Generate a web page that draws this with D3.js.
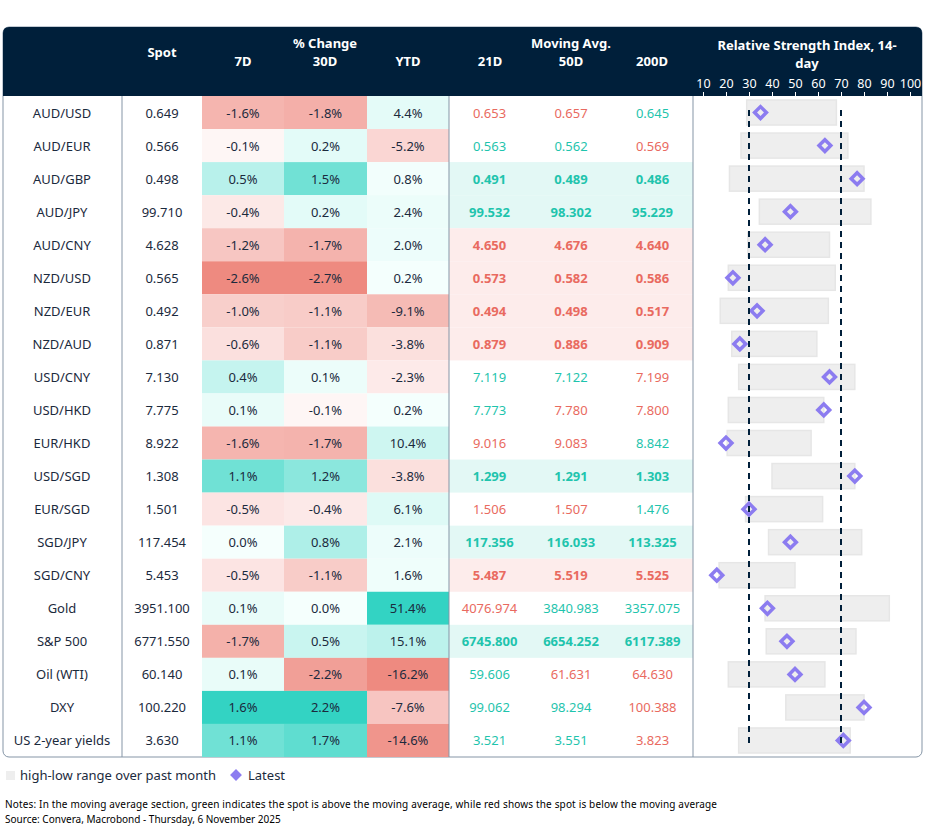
<!DOCTYPE html>
<html><head><meta charset="utf-8">
<script src="https://cdn.jsdelivr.net/npm/d3@7"></script>
<style>body{margin:0;background:#fff;font-family:"Noto Sans","Open Sans",sans-serif}</style>
</head><body><svg id="canvas" width="926" height="829"></svg>
<script>
let names = ["AUD/USD","AUD/EUR","AUD/GBP","AUD/JPY","AUD/CNY","NZD/USD","NZD/EUR","NZD/AUD","USD/CNY","USD/HKD","EUR/HKD","USD/SGD","EUR/SGD","SGD/JPY","SGD/CNY","Gold","S&P 500","Oil (WTI)","DXY","US 2-year yields"]
let spot = [0.649,0.566,0.498,99.710,4.628,0.565,0.492,0.871,7.130,7.775,8.922,1.308,1.501,117.454,5.453,3951.100,6771.550,60.140,100.220,3.630]
let chg7 = [-1.6,-0.1,0.5,-0.4,-1.2,-2.6,-1.0,-0.6,0.4,0.1,-1.6,1.1,-0.5,0.0,-0.5,0.1,-1.7,0.1,1.6,1.1]
let chg30 = [-1.8,0.2,1.5,0.2,-1.7,-2.7,-1.1,-1.1,0.1,-0.1,-1.7,1.2,-0.4,0.8,-1.1,0.0,0.5,-2.2,2.2,1.7]
let chgYtd = [4.4,-5.2,0.8,2.4,2.0,0.2,-9.1,-3.8,-2.3,0.2,10.4,-3.8,6.1,2.1,1.6,51.4,15.1,-16.2,-7.6,-14.6]
let ma21 = [0.653,0.563,0.491,99.532,4.650,0.573,0.494,0.879,7.119,7.773,9.016,1.299,1.506,117.356,5.487,4076.974,6745.800,59.606,99.062,3.521]
let ma50 = [0.657,0.562,0.489,98.302,4.676,0.582,0.498,0.886,7.122,7.780,9.083,1.291,1.507,116.033,5.519,3840.983,6654.252,61.631,98.294,3.551]
let ma200 = [0.645,0.569,0.486,95.229,4.640,0.586,0.517,0.909,7.199,7.800,8.842,1.303,1.476,113.325,5.525,3357.075,6117.389,64.630,100.388,3.823]
let rsiLow = [29,26.5,21.5,34.5,29.5,21,17.5,22.5,25.5,21,20.5,40,28.5,38.5,17,37,37.5,21,46,25.5]
let rsiHigh = [68,73,80,83,65,67.5,64.5,59.5,76,62.5,57,76,62,79,50,91,76.5,63,80,74]
let rsiLatest = [35,63,77,48,37,23,33.5,26,65,62.5,20,76,30,48,16,38,46.5,50,80,71]
let rsiTicks = [10,20,30,40,50,60,70,80,90,100]

let canvas = d3.select("#canvas")
let top0 = 27, headH = 69, bottom = 757, left = 3, right = 922
let navy = "#001f3a", teal = "#1fc4ad", red = "#e96a60", ink = "#1b2a3d"

let y = d3.scaleBand().domain(d3.range(names.length)).range([top0 + headH, bottom])
let cols = [3,122,202,284,367,449,530,612,693,922]
let rsiX = d3.scaleLinear().domain([10,100]).range([703,910])

let fmt3 = d3.format(".3f")
let heat = (arr) => {
    let mn = d3.min(arr), mx = d3.max(arr)
    return (v) => v < 0 ? d3.interpolateRgb("#fffafa", "#ee8a80")(v / mn)
        : d3.interpolateRgb("#f5fffd", "#33d3c3")(mx ? v / mx : 0)
}

// outer box + header
canvas.append("rect").attr("x", left).attr("y", top0).attr("width", right - left).attr("height", bottom - top0)
    .attr("rx", 6).attr("fill", "#fff").attr("stroke", "#8595a6")
canvas.append("path").attr("fill", navy)
    .attr("d", `M${left},${top0+headH} V${top0+6} Q${left},${top0} ${left+6},${top0} H${right-6} Q${right},${top0} ${right},${top0+6} V${top0+headH} Z`)

let hdr = (x, yy, t, size) => canvas.append("text").attr("x", x).attr("y", yy).attr("text-anchor", "middle")
    .attr("fill", "#fff").attr("font-weight", "bold").attr("font-size", size || 13).text(t)
hdr(162, 57, "Spot")
hdr(325, 48, "% Change")
hdr(243, 66, "7D"); hdr(325, 66, "30D"); hdr(408, 66, "YTD")
hdr(571, 48, "Moving Avg.")
hdr(490, 66, "21D"); hdr(571, 66, "50D"); hdr(652, 66, "200D")
hdr(807, 50, "Relative Strength Index, 14-"); hdr(807, 68, "day")

let axis = d3.axisBottom(rsiX).tickValues(rsiTicks).tickSize(4).tickPadding(-17)
let ax = canvas.append("g").attr("transform", `translate(0,${top0 + headH - 4})`).call(axis)
ax.select(".domain").remove()
ax.selectAll("line").attr("stroke", "#fff")
ax.selectAll("text").attr("fill", "#fff").attr("font-size", 12.5).attr("font-family", "Noto Sans")

let rows = canvas.append("g")
let pctCols = [[chg7, 2], [chg30, 3], [chgYtd, 4]]
pctCols.forEach(([arr, c]) => {
    let color = heat(arr)
    rows.selectAll(null).data(arr).enter().append("rect")
        .attr("x", cols[c]).attr("y", (d, i) => y(i)).attr("width", cols[c+1] - cols[c]).attr("height", y.bandwidth())
        .attr("fill", d => color(d))
    rows.selectAll(null).data(arr).enter().append("text")
        .attr("x", (cols[c] + cols[c+1]) / 2).attr("y", (d, i) => y(i) + y.bandwidth() / 2 + 5)
        .attr("text-anchor", "middle").attr("font-size", 13).attr("fill", ink).text(d => d.toFixed(1) + "%")
})

// moving averages
let mas = [ma21, ma50, ma200]
names.forEach((n, i) => {
    let above = mas.map(m => spot[i] > m[i])
    let all = above.every(a => a), none = above.every(a => !a)
    if (all || none) rows.append("rect").attr("x", cols[5]).attr("y", y(i)).attr("width", cols[8] - cols[5])
        .attr("height", y.bandwidth()).attr("fill", all ? "#e3f8f5" : "#fdeceb")
    mas.forEach((m, k) => {
        rows.append("text").attr("x", (cols[5+k] + cols[6+k]) / 2).attr("y", y(i) + y.bandwidth() / 2 + 5)
            .attr("text-anchor", "middle").attr("font-size", 13)
            .attr("font-weight", (all || none) ? "bold" : "normal")
            .attr("fill", above[k] ? teal : red).text(fmt3(m[i]))
    })
})

rows.selectAll(null).data(names).enter().append("text")
    .attr("x", 62).attr("y", (d, i) => y(i) + y.bandwidth() / 2 + 5).attr("text-anchor", "middle")
    .attr("font-size", 13).attr("fill", ink).text(d => d)
rows.selectAll(null).data(spot).enter().append("text")
    .attr("x", 162).attr("y", (d, i) => y(i) + y.bandwidth() / 2 + 5).attr("text-anchor", "middle")
    .attr("font-size", 13).attr("fill", ink).text(d => fmt3(d))

// vertical separators
;[122, 449, 693].forEach(x => canvas.append("line").attr("x1", x).attr("x2", x)
    .attr("y1", top0 + headH).attr("y2", bottom).attr("stroke", "#8595a6"))

// RSI
rows.selectAll(null).data(names).enter().append("rect")
    .attr("x", (d, i) => rsiX(rsiLow[i])).attr("width", (d, i) => rsiX(rsiHigh[i]) - rsiX(rsiLow[i]))
    .attr("y", (d, i) => y(i) + 4).attr("height", y.bandwidth() - 8)
    .attr("fill", "#eeeeee").attr("stroke", "#e6e6e6").attr("stroke-width", 1.5)
;[30, 70].forEach(v => canvas.append("line").attr("x1", rsiX(v)).attr("x2", rsiX(v))
    .attr("y1", y(0) + 14).attr("y2", bottom - 12).attr("stroke", navy).attr("stroke-width", 2).attr("stroke-dasharray", "6,5"))
let dia = d3.symbol().type(d3.symbolDiamond2 || d3.symbolSquare2).size(110)
rows.selectAll(null).data(rsiLatest).enter().append("path")
    .attr("d", d3.symbol().type(d3.symbolSquare).size(70)())
    .attr("transform", (d, i) => `translate(${rsiX(d)},${y(i) + y.bandwidth() / 2}) rotate(45)`)
    .attr("fill", "none").attr("stroke", "#8c7cf0").attr("stroke-width", 3.5)

// legend
canvas.append("rect").attr("x", 6).attr("y", 771).attr("width", 9).attr("height", 9).attr("fill", "#eeeeee")
canvas.append("text").attr("x", 20).attr("y", 780).attr("font-size", 13).attr("fill", ink).text("high-low range over past month")
canvas.append("path").attr("d", d3.symbol().type(d3.symbolSquare).size(70)())
    .attr("transform", "translate(236,775) rotate(45)").attr("fill", "#8c7cf0")
canvas.append("text").attr("x", 248).attr("y", 780).attr("font-size", 13).attr("fill", ink).text("Latest")

canvas.append("text").attr("x", 5).attr("y", 808).attr("font-size", 10).attr("fill", "#000")
    .attr("textLength", 712).text("Notes: In the moving average section, green indicates the spot is above the moving average, while red shows the spot is below the moving average")
canvas.append("text").attr("x", 5).attr("y", 823).attr("font-size", 10).attr("fill", "#000")
    .text("Source: Convera, Macrobond - Thursday, 6 November 2025")
</script></body></html>
